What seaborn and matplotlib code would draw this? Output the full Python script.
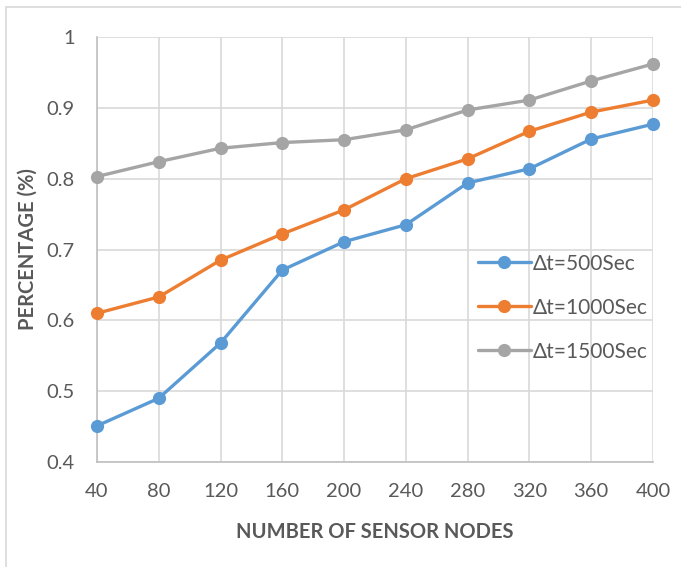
import pandas as pd
import matplotlib.pyplot as plt
import matplotlib.patches as mpatches
import seaborn as sns

# values
nodes = [40, 80, 120, 160, 200, 240, 280, 320, 360, 400]
dt_500 = [0.451, 0.490, 0.568, 0.671, 0.711, 0.735, 0.794, 0.814, 0.856, 0.877]
dt_1000 = [0.610, 0.633, 0.685, 0.722, 0.756, 0.800, 0.828, 0.867, 0.894, 0.911]
dt_1500 = [0.803, 0.824, 0.843, 0.851, 0.855, 0.869, 0.897, 0.911, 0.938, 0.962]
series_names = ["Δt=500Sec", "Δt=1000Sec", "Δt=1500Sec"]
colors = ["#5B9BD5", "#ED7D31", "#A5A5A5"]
y_ticks = [0.4, 0.5, 0.6, 0.7, 0.8, 0.9, 1]
y_tick_labels = ["0.4", "0.5", "0.6", "0.7", "0.8", "0.9", "1"]

df = pd.DataFrame({"nodes": nodes * 3,
                   "value": dt_500 + dt_1000 + dt_1500,
                   "series": [s for s in series_names for _ in nodes]})

sns.set_style("white")
plt.rcParams['font.family'] = ['Lato', 'DejaVu Sans']
text_col = "#595959"
grid_col = "#D9D9D9"

fig = plt.figure(figsize=(6.81, 5.67), dpi=100)
ax = fig.add_axes([0.1424, 0.1852, 0.8165, 0.7495])

sns.lineplot(data=df, x="nodes", y="value", hue="series", palette=colors,
             marker="o", markersize=9.5, markeredgewidth=0, linewidth=2.4,
             ax=ax, zorder=3)

ax.set_xlim(40, 400)
ax.set_ylim(0.4, 1.0)
ax.set_xticks(nodes)
ax.set_xticklabels([str(n) for n in nodes])
ax.set_yticks(y_ticks)
ax.set_yticklabels(y_tick_labels)
ax.tick_params(axis="both", length=0, labelsize=14.5, colors=text_col)
ax.tick_params(axis="x", pad=15)
ax.tick_params(axis="y", pad=16)
for m in ax.lines:
    m.set_clip_on(False)

ax.grid(True, color=grid_col, linewidth=1.2, zorder=0)
ax.set_axisbelow(True)
for side in ["top", "right"]:
    ax.spines[side].set_visible(False)
for side in ["left", "bottom"]:
    ax.spines[side].set_color("#BFBFBF")
    ax.spines[side].set_linewidth(1.2)

ax.set_xlabel("NUMBER OF SENSOR NODES", fontsize=14.5, fontweight="bold",
              color=text_col, labelpad=16)
ax.set_ylabel("PERCENTAGE (%)", fontsize=14.5, fontweight="bold",
              color=text_col, labelpad=6)

leg = ax.legend(loc="upper left", bbox_to_anchor=(0.67, 0.51), frameon=False,
                fontsize=15, labelspacing=1.15, handlelength=2.55,
                handletextpad=0.1, borderaxespad=0)
for t in leg.get_texts():
    t.set_color(text_col)

# outer chart frame (partly cropped in the original)
fig.patches.append(mpatches.Rectangle((6 / 681, -0.1), 1.2, 1 - 7 / 567 + 0.1,
                                      transform=fig.transFigure, fill=False,
                                      edgecolor=grid_col, linewidth=1.2))

plt.savefig("out.png", dpi=100)
